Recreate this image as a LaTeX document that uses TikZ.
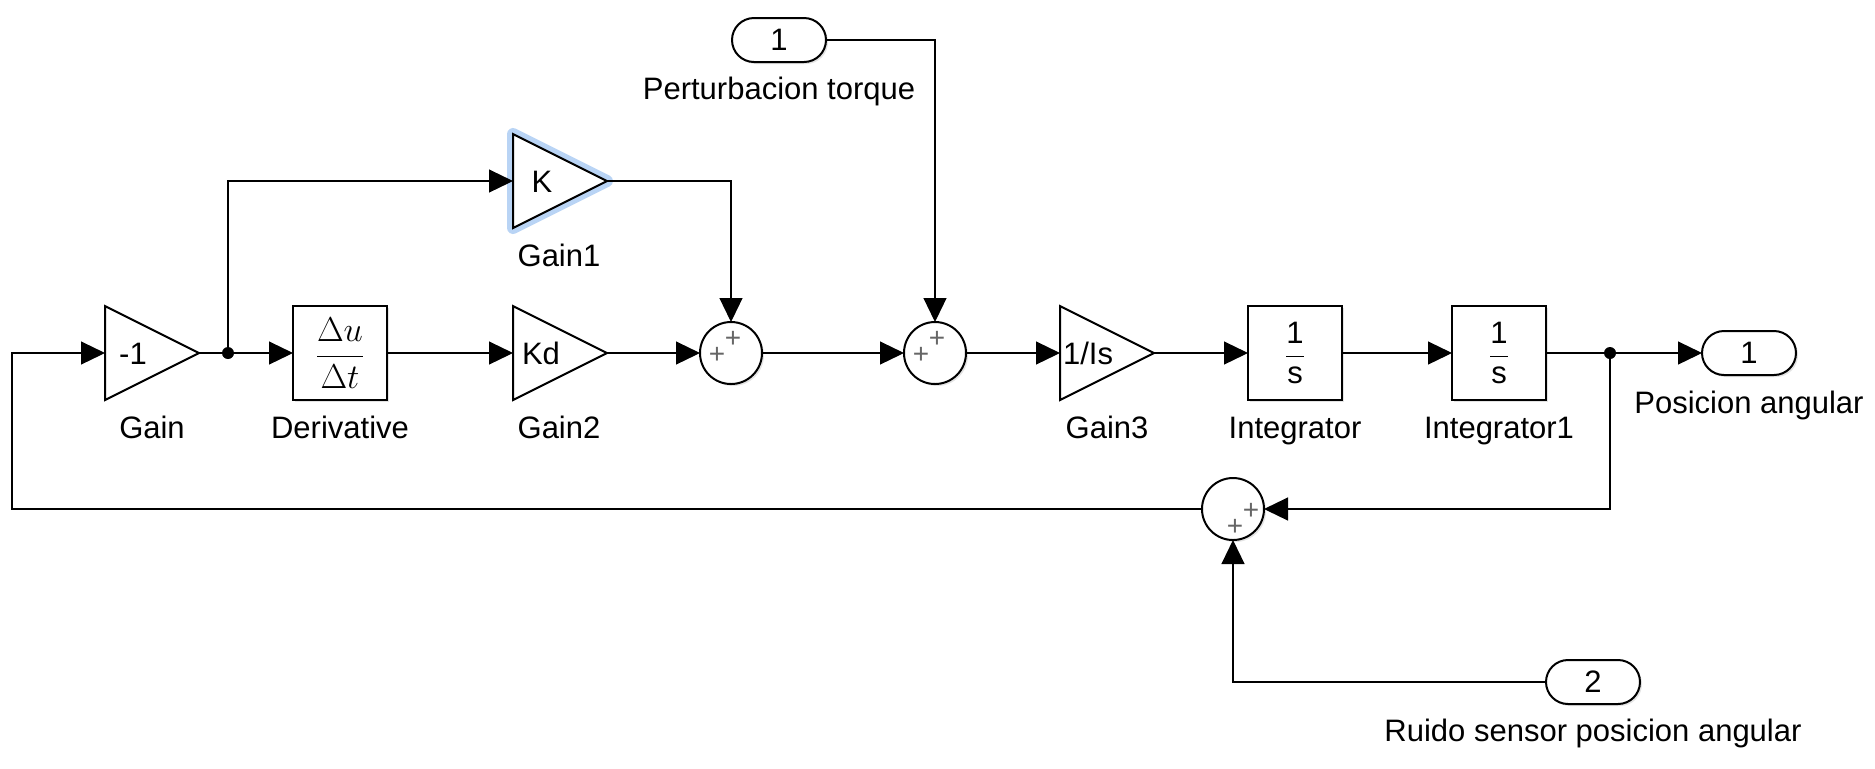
\documentclass[tikz,border=0pt]{standalone}
\usepackage[no-math]{fontspec}
\setmainfont{Liberation Sans}
\usetikzlibrary{shapes.geometric,shapes.misc,arrows.meta,shadows}
\definecolor{hl}{RGB}{185,212,245}
\begin{document}
\begin{tikzpicture}[x=0.5pt,y=-0.5pt,
  font=\fontsize{15.5}{18}\selectfont,
  line/.style={line width=0.6pt},
  arr/.style={line width=0.6pt,-{Triangle[length=12pt,width=11.5pt]}},
  shd/.style={drop shadow={shadow xshift=1pt, shadow yshift=-1pt, opacity=0.22}},
  gainblk/.style={isosceles triangle, isosceles triangle stretches, shape border rotate=0,
    minimum width=47pt, minimum height=47pt, inner sep=0pt, outer sep=0pt,
    draw, line width=1pt, fill=white, anchor=apex},
  boxblk/.style={shd, rectangle, draw, line width=1pt, fill=white,
    minimum width=47pt, minimum height=47pt, inner sep=0pt, outer sep=0pt},
  sumblk/.style={shd, circle, draw, line width=1pt, fill=white,
    minimum size=31pt, inner sep=0pt, outer sep=0pt},
  port/.style={shd, rounded rectangle, draw, line width=1pt, fill=white,
    minimum width=47pt, minimum height=22pt, inner sep=0pt, outer sep=0pt},
  lbl/.style={anchor=base, inner sep=0pt},
  pls/.style={text=black!60, font=\fontsize{14}{14}\selectfont, inner sep=0pt},
  dotn/.style={circle, fill, inner sep=0pt, minimum size=6pt}
]
\useasboundingbox (0,0) rectangle (1875,768);
\fill[white] (0,0) rectangle (1875,768);

% blocks
\node[gainblk] (g0) at (199,353) {};
\node[lbl] (g0t) at (133,364) {-1};
\node[dotn] (d1) at (228,353) {};
\node[boxblk] (der) at (340,353) {\fontsize{16.5}{18}\selectfont$\displaystyle\frac{\Delta u}{\Delta t}$};
\node[gainblk, preaction={draw=hl, line width=6pt, line join=round}] (g1) at (607,181) {};
\node[lbl] (g1t) at (542,192) {K};
\node[gainblk] (g2) at (607,353) {};
\node[lbl] (g2t) at (541,364) {Kd};
\node[sumblk] (s1) at (731,353) {};
\node[sumblk] (s2) at (935,353) {};
\node[gainblk] (g3) at (1154,353) {};
\node[lbl] (g3t) at (1088,364) {1/Is};
\node[boxblk] (int1) at (1295,353) {$\displaystyle\frac{\mbox{1}}{\mbox{s}}$};
\node[boxblk] (int2) at (1499,353) {$\displaystyle\frac{\mbox{1}}{\mbox{s}}$};
\node[dotn] (d2) at (1610,353) {};
\node[port] (out1) at (1749,353) {1};
\node[port] (in1) at (779,40) {1};
\node[sumblk] (s3) at (1233,509) {};
\node[port] (in2) at (1593,682) {2};
\coordinate (fl) at (12,430);

% plus signs
\node[pls] (p1a) at (733,339) {+};
\node[pls] (p1b) at (717,355) {+};
\node[pls] (p2a) at (937,339) {+};
\node[pls] (p2b) at (921,355) {+};
\node[pls] (p3a) at (1251,511) {+};
\node[pls] (p3b) at (1235,527) {+};

% connectors
\draw[line] (g0.apex) -- (d1);
\draw[arr] (d1) -- (der.west);
\draw[arr] (d1) |- (g1.west);
\draw[arr] (der.east) -- (g2.west);
\draw[arr] (g2.apex) -- (s1.west);
\draw[arr] (g1.apex) -| (s1.north);
\draw[arr] (s1.east) -- (s2.west);
\draw[arr] (in1.east) -| (s2.north);
\draw[arr] (s2.east) -- (g3.west);
\draw[arr] (g3.apex) -- (int1.west);
\draw[arr] (int1.east) -- (int2.west);
\draw[line] (int2.east) -- (d2);
\draw[arr] (d2) -- (out1.west);
\draw[arr] (d2) |- (s3.east);
\draw[arr] (in2.west) -| (s3.south);
\draw[arr] (s3.west) -| (fl) |- (g0.west);

% labels
\node[lbl] (lg0) at (152,438) {Gain};
\node[lbl] (lder) at (340,438) {Derivative};
\node[lbl] (lg2) at (559,438) {Gain2};
\node[lbl] (lg1) at (559,266) {Gain1};
\node[lbl] (lg3) at (1107,438) {Gain3};
\node[lbl] (lint1) at (1295,438) {Integrator};
\node[lbl] (lint2) at (1499,438) {Integrator1};
\node[lbl] (lout1) at (1749,413) {Posicion angular};
\node[lbl] (lin1) at (779,99) {Perturbacion torque};
\node[lbl] (lin2) at (1593,741) {Ruido sensor posicion angular};
\end{tikzpicture}
\end{document}
